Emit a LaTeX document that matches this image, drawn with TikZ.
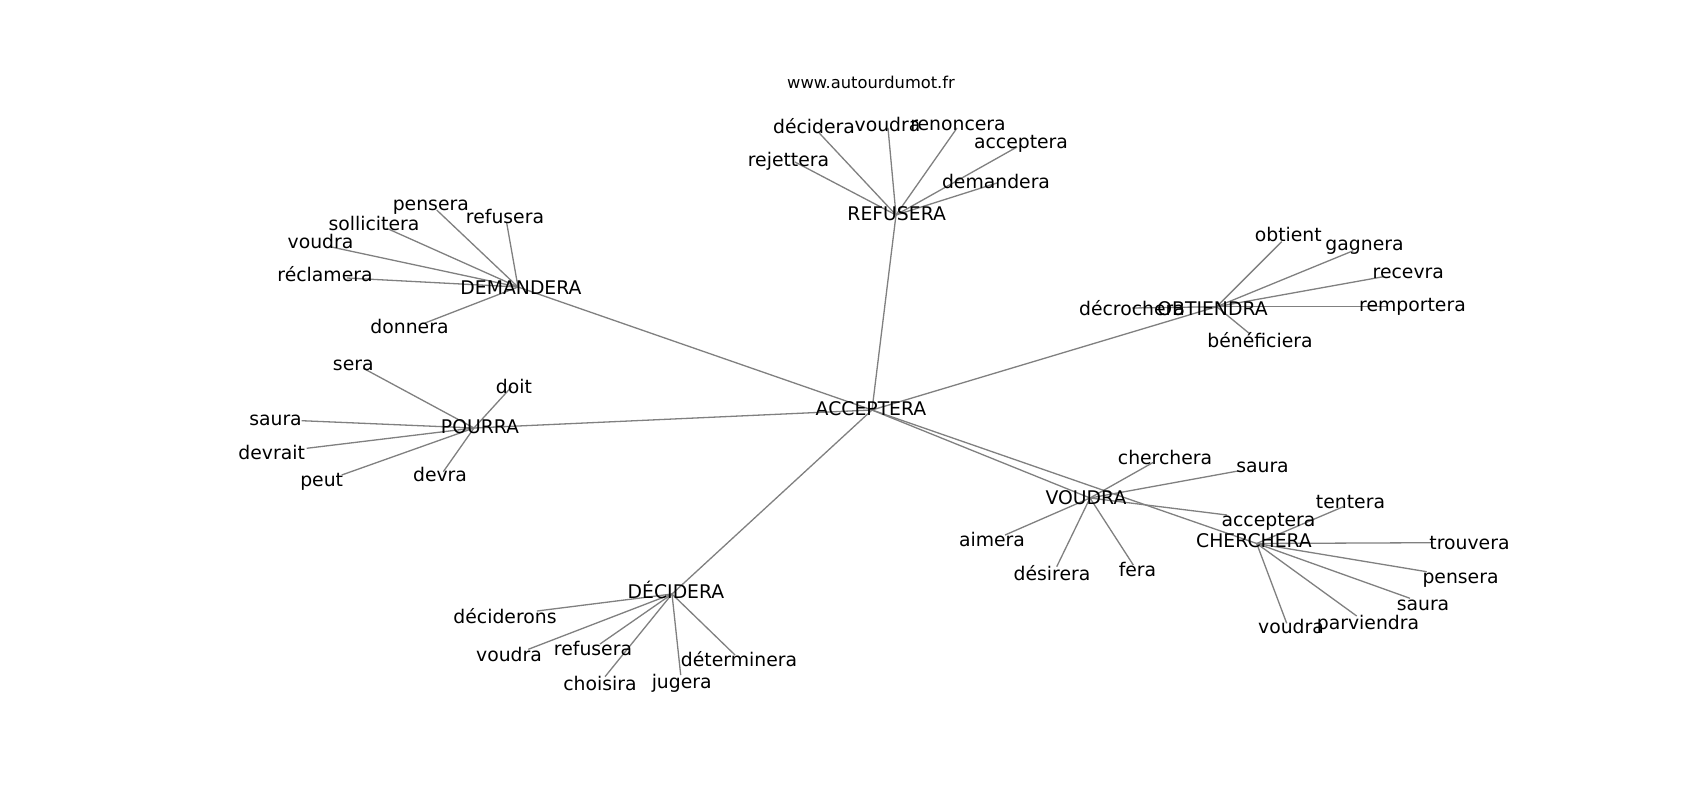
\documentclass[tikz,border=0pt]{standalone}
\usepackage{fontspec}
\setmainfont{DejaVu Sans}
\begin{document}
\begin{tikzpicture}[x=1pt,y=-1pt,
  lbl/.style={inner sep=0pt, outer sep=0pt, text height=13.7pt, text depth=0pt, font=\fontsize{18.8}{22}\selectfont},
  web/.style={inner sep=0pt, outer sep=0pt, text height=11.9pt, text depth=0pt, font=\fontsize{16.3}{19}\selectfont},
  edge/.style={draw=gray, line width=1.3pt}]
\useasboundingbox[fill=white] (0,0) rectangle (1700,800);

% hubs
\coordinate (ACC) at (872,410);
\coordinate (REF) at (896,215);
\coordinate (DEM) at (518,287);
\coordinate (OBT) at (1216.7,306.7);
\coordinate (POU) at (474,428);
\coordinate (DEC) at (672,594);
\coordinate (VOU) at (1090,498);
\coordinate (CHE) at (1256.7,543.5);

% REFUSERA leaves
\coordinate (r1) at (795,162);
\coordinate (r2) at (818,131.7);
\coordinate (r3) at (888,128);
\coordinate (r4) at (957,128);
\coordinate (r5) at (1017,147);
\coordinate (r6) at (997,183);
% DEMANDERA leaves
\coordinate (d1) at (436.7,210);
\coordinate (d2) at (506.7,223);
\coordinate (d3) at (386.7,228.3);
\coordinate (d4) at (330,246.7);
\coordinate (d5) at (347,278);
\coordinate (d6) at (425,323);
% OBTIENDRA leaves
\coordinate (o1) at (1281.7,241.7);
\coordinate (o2) at (1353.3,250.7);
\coordinate (o3) at (1383.3,276.7);
\coordinate (o4) at (1387,306.7);
\coordinate (o5) at (1132,308);
\coordinate (o6) at (1250,334);
% POURRA leaves
\coordinate (p1) at (363.3,368.3);
\coordinate (p2) at (511.7,386.7);
\coordinate (p3) at (301.7,420.7);
\coordinate (p4) at (306.7,448.3);
\coordinate (p5) at (341.7,475);
\coordinate (p6) at (443.3,471.7);
% DECIDERA leaves
\coordinate (c1) at (537,611);
\coordinate (c2) at (528.3,649.3);
\coordinate (c3) at (600,644);
\coordinate (c4) at (605,676.7);
\coordinate (c5) at (680.7,675);
\coordinate (c6) at (735,655);
% VOUDRA leaves
\coordinate (v1) at (1153,462.5);
\coordinate (v2) at (1238,471);
\coordinate (v3) at (1005,535);
\coordinate (v4) at (1056.7,566.7);
\coordinate (v5) at (1133.3,565);
\coordinate (v6) at (1227,515);
% CHERCHERA leaves
\coordinate (h1) at (1343.3,506.7);
\coordinate (h2) at (1433,542.7);
\coordinate (h3) at (1426.7,571.7);
\coordinate (h4) at (1410,598.3);
\coordinate (h5) at (1356.7,616);
\coordinate (h6) at (1286.7,623.3);

% edges
\foreach \h in {REF,DEM,OBT,POU,DEC,VOU,CHE} \draw[edge] (ACC) -- (\h);
\foreach \l in {r1,r2,r3,r4,r5,r6} \draw[edge] (REF) -- (\l);
\foreach \l in {d1,d2,d3,d4,d5,d6} \draw[edge] (DEM) -- (\l);
\foreach \l in {o1,o2,o3,o4,o5,o6} \draw[edge] (OBT) -- (\l);
\foreach \l in {p1,p2,p3,p4,p5,p6} \draw[edge] (POU) -- (\l);
\foreach \l in {c1,c2,c3,c4,c5,c6} \draw[edge] (DEC) -- (\l);
\foreach \l in {v1,v2,v3,v4,v5,v6} \draw[edge] (VOU) -- (\l);
\foreach \l in {h1,h2,h3,h4,h5,h6} \draw[edge] (CHE) -- (\l);

% labels
\node[web] (site) at (871,82.7) {www.autourdumot.fr};

\node[lbl] (ACCt) at (871,408.3) {ACCEPTERA};
\node[lbl] (REFt) at (896.7,213.3) {REFUSERA};
\node[lbl] (DEMt) at (521,287.3) {DEMANDERA};
\node[lbl] (OBTt) at (1212.5,308.3) {OBTIENDRA};
\node[lbl] (POUt) at (480,426.7) {POURRA};
\node[lbl] (DECt) at (676,591.5) {DÉCIDERA};
\node[lbl] (VOUt) at (1086,497.3) {VOUDRA};
\node[lbl] (CHEt) at (1254,541) {CHERCHERA};

\node[lbl] (r1t) at (788.5,159.3) {rejettera};
\node[lbl] (r2t) at (814,126.7) {décidera};
\node[lbl] (r3t) at (887.5,125) {voudra};
\node[lbl] (r4t) at (958,124) {renoncera};
\node[lbl] (r5t) at (1021,142) {acceptera};
\node[lbl] (r6t) at (996,182) {demandera};

\node[lbl] (d1t) at (430.8,203.3) {pensera};
\node[lbl] (d2t) at (505,216.7) {refusera};
\node[lbl] (d3t) at (374,223.3) {sollicitera};
\node[lbl] (d4t) at (320.5,241.7) {voudra};
\node[lbl] (d5t) at (325,275) {réclamera};
\node[lbl] (d6t) at (409.5,326.7) {donnera};

\node[lbl] (o1t) at (1288.3,235) {obtient};
\node[lbl] (o2t) at (1364.5,243.3) {gagnera};
\node[lbl] (o3t) at (1408.3,271.7) {recevra};
\node[lbl] (o4t) at (1412.5,305) {remportera};
\node[lbl] (o5t) at (1132,308.3) {décrochera};
\node[lbl] (o6t) at (1260,341) {bénéficiera};

\node[lbl] (p1t) at (353.3,364) {sera};
\node[lbl] (p2t) at (514,386.7) {doit};
\node[lbl] (p3t) at (275.5,419) {saura};
\node[lbl] (p4t) at (271.7,452.7) {devrait};
\node[lbl] (p5t) at (321.7,479.3) {peut};
\node[lbl] (p6t) at (440,475) {devra};

\node[lbl] (c1t) at (505,616.7) {déciderons};
\node[lbl] (c2t) at (509,655) {voudra};
\node[lbl] (c3t) at (593,648.3) {refusera};
\node[lbl] (c4t) at (600,683.3) {choisira};
\node[lbl] (c5t) at (681.7,681.7) {jugera};
\node[lbl] (c6t) at (739,659.3) {déterminera};

\node[lbl] (v1t) at (1165,457.3) {cherchera};
\node[lbl] (v2t) at (1262.5,466) {saura};
\node[lbl] (v3t) at (992,539.3) {aimera};
\node[lbl] (v4t) at (1052,574) {désirera};
\node[lbl] (v5t) at (1137.5,569.3) {fera};
\node[lbl] (v6t) at (1268.5,520) {acceptera};

\node[lbl] (h1t) at (1350.5,501.7) {tentera};
\node[lbl] (h2t) at (1469.5,542.7) {trouvera};
\node[lbl] (h3t) at (1460.5,576.7) {pensera};
\node[lbl] (h4t) at (1423,603.3) {saura};
\node[lbl] (h5t) at (1368,622.7) {parviendra};
\node[lbl] (h6t) at (1291,626.7) {voudra};
\end{tikzpicture}
\end{document}
